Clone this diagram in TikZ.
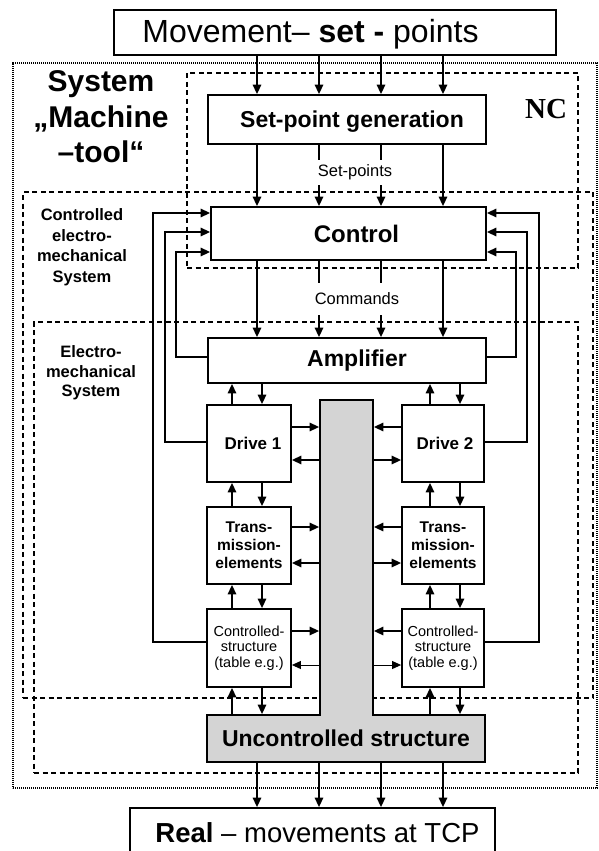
\documentclass[tikz,border=0pt]{standalone}
\usepackage{fontspec}
\setmainfont{Liberation Sans}
\newfontfamily\ncfont{Liberation Serif}
\usetikzlibrary{arrows.meta,calc}
\definecolor{colgrey}{RGB}{212,212,212}
\newcommand\fsz[2]{\fontsize{#1pt}{#2pt}\selectfont}
\begin{document}
\begin{tikzpicture}[x=1pt,y=-1pt,
  box/.style={draw,line width=1.8pt,inner sep=0pt,fill=white},
  arr/.style={line width=1.5pt,-{Triangle[length=9.5pt,width=8.5pt]}},
  thinarr/.style={line width=0.9pt,-{Triangle[length=9pt,width=8pt]}},
  ln/.style={line width=1.5pt},
  dsh/.style={draw,line width=1.6pt,dash pattern=on 5pt off 3.5pt,inner sep=0pt},
  dotb/.style={draw,line width=1.3pt,dash pattern=on 1.1pt off 0.9pt,inner sep=0pt},
  big/.style={font=\bfseries\fsz{23}{27}},
  small/.style={font=\bfseries\fsz{17}{20}},
  tiny/.style={font=\bfseries\fsz{15.5}{18},align=center},
  cs/.style={font=\fsz{14.5}{15.5},align=center}]
\useasboundingbox (0,0) rectangle (598,851);
\clip (0,0) rectangle (598,851);
% region boxes
\node[dotb,minimum width=584pt,minimum height=725pt] (sysbox) at (305,425.5) {};
\node[dsh,minimum width=391pt,minimum height=195pt] (ncbox) at (382.5,170.5) {};
\node[dsh,minimum width=570pt,minimum height=506pt] (cembox) at (308,445) {};
\node[dsh,minimum width=544pt,minimum height=451pt] (embox) at (306,547.5) {};
% labels
\node[font=\bfseries\fsz{30}{35.5},align=center] (sys) at (101,117) {System\\„Machine\\–tool“};
\node[font=\bfseries\fsz{16.5}{20.5},align=center] (cemlab) at (82,247) {Controlled\\electro-\\mechanical\\System};
\node[font=\bfseries\fsz{16.5}{19.5},align=center] (emlab) at (91,373) {Electro-\\mechanical\\System};
\node[font=\ncfont\bfseries\fsz{29}{32}] (nc) at (546,109) {NC};
% main boxes
\node[box,minimum width=442pt,minimum height=45pt] (top) at (335,32.5) {};
\node[font=\fsz{32}{36}] (toptxt) at (310.5,34) {Movement– \textbf{set -} points};
\node[box,big,minimum width=278pt,minimum height=49pt,text depth=0pt] (sp) at (347,119.5) {\hspace*{10pt}Set-point generation};
\node[box,font=\bfseries\fsz{24}{28},minimum width=275pt,minimum height=53pt] (ctrl) at (348.5,233.5) {\hspace*{16pt}Control};
\node[box,big,minimum width=278pt,minimum height=45pt] (amp) at (347,360.5) {\hspace*{20pt}Amplifier};
\node[box,small,minimum width=84pt,minimum height=77pt] (d1) at (249,443.5) {\hspace*{8pt}Drive 1};
\node[box,small,minimum width=82pt,minimum height=77pt] (d2) at (443,443.5) {\hspace*{4pt}Drive 2};
\node[box,tiny,minimum width=84pt,minimum height=77pt] (t1) at (249,545.5) {Trans-\\mission-\\elements};
\node[box,tiny,minimum width=82pt,minimum height=77pt] (t2) at (443,545.5) {Trans-\\mission-\\elements};
\node[box,cs,minimum width=84pt,minimum height=78pt] (c1) at (249,648) {Controlled-\\structure\\(table e.g.)};
\node[box,cs,minimum width=82pt,minimum height=78pt] (c2) at (443,648) {Controlled-\\structure\\(table e.g.)};
\node[box,fill=colgrey,minimum width=53pt,minimum height=315pt] (col) at (346.5,557.5) {};
\node[box,big,fill=colgrey,minimum width=278pt,minimum height=47pt] (unc) at (346,738.5) {Uncontrolled structure};
\fill[colgrey] (321,712) rectangle (372,718);
\node[box,font=\fsz{27.5}{32},minimum width=365pt,minimum height=50pt] (real) at (312.5,833) {\hspace*{10pt}\textbf{Real} – movements at TCP};
\node[font=\fsz{16.5}{18}] (spl) at (355,172) {Set-points};
\node[font=\fsz{16.5}{18}] (cmd) at (357,299) {Commands};
% lanes
\coordinate (m1) at (257,0); \coordinate (m2) at (319,0);
\coordinate (m3) at (381,0); \coordinate (m4) at (443,0);
\coordinate (l1) at (232,0); \coordinate (l2) at (262,0);
\coordinate (r1) at (430,0); \coordinate (r2) at (460,0);
% main flow
\foreach \m in {m1,m2,m3,m4}{
  \draw[arr] (top.south -| \m) -- (sp.north -| \m);
  \draw[arr] (unc.south -| \m) -- (real.north -| \m);}
\foreach \m in {m1,m4}{
  \draw[arr] (sp.south -| \m) -- (ctrl.north -| \m);
  \draw[arr] (ctrl.south -| \m) -- (amp.north -| \m);}
\foreach \m in {m2,m3}{
  \draw[ln] (sp.south -| \m) -- (\m |- 0,160);
  \draw[arr] (\m |- 0,185) -- (ctrl.north -| \m);
  \draw[ln] (ctrl.south -| \m) -- (\m |- 0,283);
  \draw[arr] (\m |- 0,315) -- (amp.north -| \m);}
% vertical chains
\foreach \u/\l in {amp/d1,d1/t1,t1/c1,c1/unc}{
  \draw[arr] (\l.north -| l1) -- (\u.south -| l1);
  \draw[arr] (\u.south -| l2) -- (\l.north -| l2);}
\foreach \u/\l in {amp/d2,d2/t2,t2/c2,c2/unc}{
  \draw[arr] (\l.north -| r1) -- (\u.south -| r1);
  \draw[arr] (\u.south -| r2) -- (\l.north -| r2);}
% column links
\draw[arr] (d1.east |- 0,427) -- (col.west |- 0,427);
\draw[arr] (col.west |- 0,460) -- (d1.east |- 0,460);
\draw[arr] (t1.east |- 0,527) -- (col.west |- 0,527);
\draw[arr] (col.west |- 0,563) -- (t1.east |- 0,563);
\draw[arr] (c1.east |- 0,631) -- (col.west |- 0,631);
\draw[thinarr] (col.west |- 0,665) -- (c1.east |- 0,665);
\draw[arr] (d2.west |- 0,427) -- (col.east |- 0,427);
\draw[arr] (col.east |- 0,460) -- (d2.west |- 0,460);
\draw[arr] (t2.west |- 0,527) -- (col.east |- 0,527);
\draw[arr] (col.east |- 0,563) -- (t2.west |- 0,563);
\draw[arr] (c2.west |- 0,631) -- (col.east |- 0,631);
\draw[thinarr] (col.east |- 0,665) -- (c2.west |- 0,665);
% feedback
\draw[arr] (c1.west |- 0,642) -| (153,213) -- (ctrl.west |- 0,213);
\draw[arr] (d1.west |- 0,442) -| (165,232) -- (ctrl.west |- 0,232);
\draw[arr] (amp.west |- 0,357) -| (176,252) -- (ctrl.west |- 0,252);
\draw[arr] (c2.east |- 0,642) -| (539,213) -- (ctrl.east |- 0,213);
\draw[arr] (d2.east |- 0,442) -| (527,232) -- (ctrl.east |- 0,232);
\draw[arr] (amp.east |- 0,357) -| (516,252) -- (ctrl.east |- 0,252);
\end{tikzpicture}
\end{document}
